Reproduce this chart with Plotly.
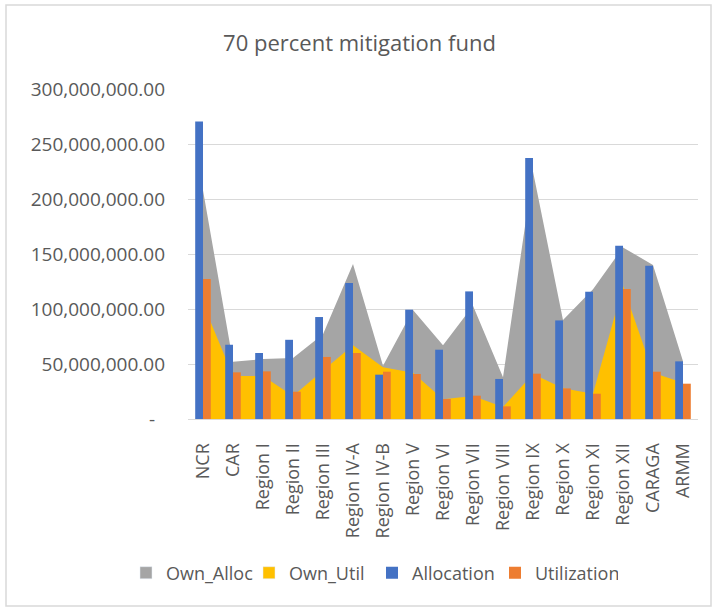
import plotly.graph_objects as go

categories = ["NCR", "CAR", "Region I", "Region II", "Region III", "Region IV-A",
              "Region IV-B", "Region V", "Region VI", "Region VII", "Region VIII",
              "Region IX", "Region X", "Region XI", "Region XII", "CARAGA", "ARMM"]

own_alloc = [208e6, 52e6, 54.5e6, 55.5e6, 77e6, 141e6, 48.5e6, 99e6, 67e6, 103e6,
             38e6, 225e6, 90e6, 118e6, 156e6, 140e6, 52.5e6]
own_util = [105e6, 39e6, 39e6, 21e6, 44e6, 67e6, 47e6, 42e6, 18e6, 21e6,
            11e6, 41e6, 28e6, 23e6, 121e6, 42e6, 33e6]
allocation = [270.5e6, 67.5e6, 60e6, 72e6, 92.7e6, 123.6e6, 40.3e6, 99.4e6, 63e6, 116e6,
              36.4e6, 237.3e6, 89.6e6, 115.7e6, 157.5e6, 139.4e6, 52.4e6]
utilization = [127.3e6, 42.4e6, 43.3e6, 24.8e6, 56.4e6, 60e6, 43e6, 40.9e6, 18.2e6, 21.2e6,
               11.5e6, 41.2e6, 27.8e6, 23e6, 118.2e6, 43e6, 32.1e6]

y_tick_vals = [0, 50e6, 100e6, 150e6, 200e6, 250e6, 300e6]
y_tick_text = ["-\u00a0\u00a0", "50,000,000.00", "100,000,000.00", "150,000,000.00",
               "200,000,000.00", "250,000,000.00", "300,000,000.00"]

GRAY = "#A5A5A5"
YELLOW = "#FFC000"
BLUE = "#4472C4"
ORANGE = "#ED7D31"
TXT = "#595959"
FONT = "Open Sans"

fig = go.Figure()

# legend-only entries for the area series (square symbols like the original)
fig.add_trace(go.Bar(x=[None], y=[None], name="Own_Alloc", marker_color=GRAY,
                     xaxis="x2", yaxis="y2", hoverinfo="skip"))
fig.add_trace(go.Bar(x=[None], y=[None], name="Own_Util", marker_color=YELLOW,
                     xaxis="x2", yaxis="y2", hoverinfo="skip"))

# area series on the base axes (drawn beneath)
fig.add_trace(go.Scatter(x=categories, y=own_alloc, name="Own_Alloc", mode="lines",
                         fill="tozeroy", fillcolor=GRAY, line=dict(width=0, color=GRAY),
                         showlegend=False))
fig.add_trace(go.Scatter(x=categories, y=own_util, name="Own_Util", mode="lines",
                         fill="tozeroy", fillcolor=YELLOW, line=dict(width=0, color=YELLOW),
                         showlegend=False))

# column series on overlaying axes (drawn on top)
BW = 0.26
fig.add_trace(go.Bar(x=categories, y=allocation, name="Allocation", marker_color=BLUE,
                     marker_line_width=0, width=BW, offset=-BW,
                     xaxis="x2", yaxis="y2"))
fig.add_trace(go.Bar(x=categories, y=utilization, name="Utilization", marker_color=ORANGE,
                     marker_line_width=0, width=BW, offset=0,
                     xaxis="x2", yaxis="y2"))

xr = [-0.5, len(categories) - 0.5]
yr = [0, 300e6]

fig.update_layout(
    width=719, height=609,
    margin=dict(l=188, r=21, t=89, b=190),
    paper_bgcolor="white", plot_bgcolor="white",
    barmode="overlay",
    font=dict(family=FONT, color=TXT),
    title=dict(text="70 percent mitigation fund", x=0.5, xref="container", xanchor="center",
               y=1 - 43 / 609, yanchor="middle",
               font=dict(family=FONT, size=22, color=TXT)),
    xaxis=dict(type="category", categoryorder="array", categoryarray=categories,
               range=xr, showgrid=False, showline=True, linecolor="#D9D9D9", linewidth=1,
               zeroline=False, tickangle=-90, ticks="", ticklabelstandoff=16,
               tickfont=dict(family=FONT, size=18, color=TXT)),
    yaxis=dict(range=yr, tickvals=y_tick_vals, ticktext=y_tick_text,
               showgrid=True, gridcolor="#D9D9D9", gridwidth=1, zeroline=False,
               showline=False, ticks="", ticklabelstandoff=22,
               tickfont=dict(family=FONT, size=19, color=TXT)),
    xaxis2=dict(type="category", categoryorder="array", categoryarray=categories,
                range=xr, overlaying="x", visible=False),
    yaxis2=dict(range=yr, overlaying="y", visible=False),
    legend=dict(orientation="h", x=(372 - 188) / 510, xanchor="center",
                y=-(573 - 419) / 330, yanchor="middle",
                entrywidth=78, entrywidthmode="pixels",
                font=dict(family=FONT, size=18, color=TXT),
                bgcolor="rgba(0,0,0,0)", traceorder="normal"),
    shapes=[dict(type="rect", xref="paper", yref="paper",
                 x0=(6 - 188) / 510, x1=(711 - 188) / 510,
                 y0=-(606 - 419) / 330, y1=(419 - 5) / 330,
                 line=dict(color="#D9D9D9", width=1.5), fillcolor="rgba(0,0,0,0)",
                 layer="below")],
)

fig.write_html("out.html", config={"displayModeBar": False},
               post_script="document.body.style.margin='0px';")
